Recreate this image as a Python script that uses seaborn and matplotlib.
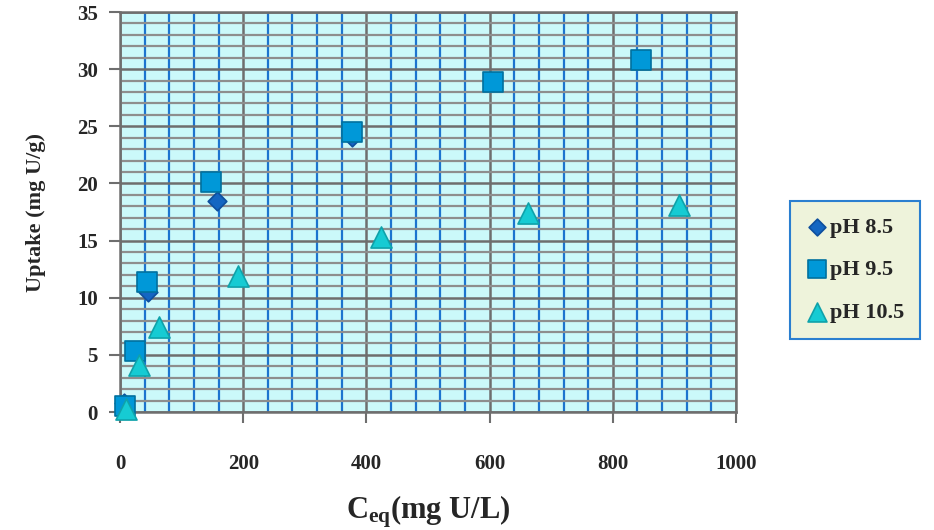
import pandas as pd
import numpy as np
import matplotlib
matplotlib.use("Agg")
import matplotlib.pyplot as plt
from matplotlib.ticker import MultipleLocator
import seaborn as sns

# Uptake isotherm data
ph85_x = [6, 46, 158, 377]
ph85_y = [0.8, 10.5, 18.5, 24.1]
ph95_x = [8, 25, 44, 148, 376, 606, 845]
ph95_y = [0.5, 5.3, 11.4, 20.1, 24.5, 28.9, 30.8]
ph105_x = [10, 31, 64, 191, 423, 663, 908]
ph105_y = [0.3, 4.1, 7.4, 11.9, 15.3, 17.4, 18.1]

series = ["pH 8.5", "pH 9.5", "pH 10.5"]
x_ticks = [0, 200, 400, 600, 800, 1000]
y_ticks = [0, 5, 10, 15, 20, 25, 30, 35]

sns.set_style("white")
plt.rcParams["font.family"] = ["Liberation Serif", "DejaVu Serif"]
plt.rcParams["font.weight"] = "bold"
plt.rcParams["mathtext.fontset"] = "custom"
plt.rcParams["mathtext.rm"] = "Liberation Serif:bold"
plt.rcParams["mathtext.it"] = "Liberation Serif:bold"

fig = plt.figure(figsize=(9.34, 5.30), dpi=100)
ax = fig.add_axes([120 / 934, 1 - 412 / 530, 616 / 934, 400 / 530])
ax.set_facecolor("#CBF9FA")

styles = [
    (ph85_x, ph85_y, "D", "#1466C2", "#0E4F9E", 90),
    (ph95_x, ph95_y, "s", "#0098D8", "#00719F", 200),
    (ph105_x, ph105_y, "^", "#16CBD3", "#0FA2AA", 230),
]
for name, (xs, ys, mk, fc, ec, s) in zip(series, styles):
    df = pd.DataFrame({"x": xs, "y": ys})
    sns.scatterplot(data=df, x="x", y="y", ax=ax, marker=mk, color=fc,
                    edgecolor=ec, linewidth=1.2, s=s, label=name, zorder=5,
                    clip_on=False)

ax.set_xlim(0, 1000)
ax.set_ylim(0, 35)
ax.set_xticks(x_ticks)
ax.set_yticks(y_ticks)
ax.xaxis.set_minor_locator(MultipleLocator(40))
ax.yaxis.set_minor_locator(MultipleLocator(1))

ax.grid(which="minor", axis="x", color="#1C74CF", linewidth=1.6, zorder=0)
ax.grid(which="minor", axis="y", color="#8E8E8E", linewidth=1.6, zorder=0)
ax.grid(which="major", axis="both", color="#6E6E6E", linewidth=1.8, zorder=1)
ax.set_axisbelow(True)

for side in ["top", "right", "left", "bottom"]:
    ax.spines[side].set_color("#6E6E6E")
    ax.spines[side].set_linewidth(1.8)

ax.tick_params(which="major", direction="out", length=8, width=1.5,
               color="#6E6E6E", labelsize=15, bottom=True, left=True)
ax.tick_params(axis="x", which="major", pad=22)
ax.tick_params(axis="y", which="major", pad=8)
ax.tick_params(which="minor", length=0, bottom=False, left=False)
for lab in ax.get_xticklabels() + ax.get_yticklabels():
    lab.set_fontweight("bold")

ax.set_xlabel(r"C$_{\mathrm{eq}}$(mg U/L)", fontsize=22, fontweight="bold",
              labelpad=14)
ax.set_ylabel("Uptake (mg U/g)", fontsize=16, fontweight="bold", labelpad=22)

leg = ax.legend(loc="center left", bbox_to_anchor=(790 / 934, 1 - 270 / 530),
                bbox_transform=fig.transFigure, frameon=True, fancybox=False,
                prop={"family": "Liberation Serif", "weight": "bold", "size": 16},
                handletextpad=0.1, handlelength=1.0, labelspacing=1.0,
                borderpad=0.7, markerscale=0.9, borderaxespad=0)
leg.get_frame().set_facecolor("#EEF3DB")
leg.get_frame().set_edgecolor("#2A7FD0")
leg.get_frame().set_linewidth(1.5)
leg.get_frame().set_alpha(1)

fig.savefig("out.png", dpi=100)
